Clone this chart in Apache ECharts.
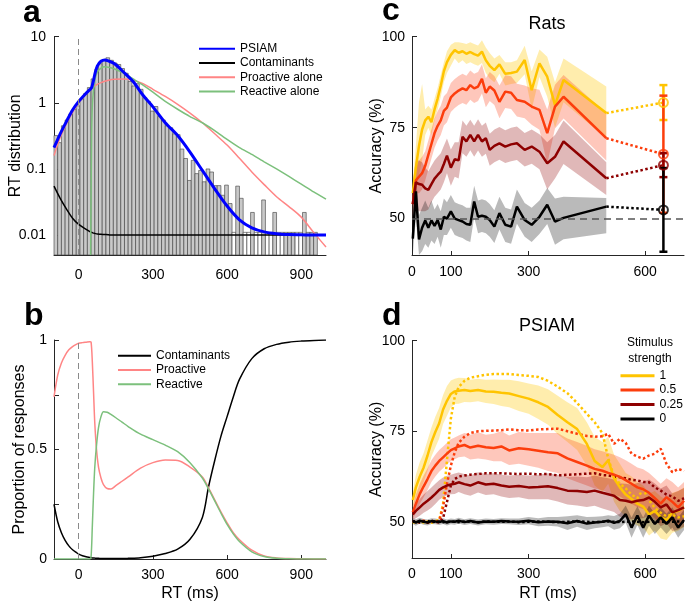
<!DOCTYPE html>
<html>
<head>
<meta charset="utf-8">
<script src="https://cdn.jsdelivr.net/npm/echarts@6/dist/echarts.min.js"></script>
<style>html,body{margin:0;background:#fff}#main{width:685px;height:604px}</style>
</head>
<body>
<div id="main"></div>
<script>
// ---------- panel a : RT distribution (log scale) ----------
const histBinWidth = 15;
const histCenters = [-92.5, -77.5, -62.5, -47.5, -32.5, -17.5, -2.5, 12.5, 27.5, 42.5,
  57.5, 72.5, 87.5, 102.5, 117.5, 132.5, 147.5, 162.5, 177.5, 192.5,
  207.5, 222.5, 237.5, 252.5, 267.5, 282.5, 297.5, 312.5, 327.5, 342.5,
  357.5, 372.5, 387.5, 402.5, 417.5, 432.5, 447.5, 462.5, 477.5, 492.5,
  507.5, 522.5, 537.5, 552.5, 567.5, 582.5, 597.5, 612.5, 627.5, 642.5,
  657.5, 672.5, 687.5, 702.5, 717.5, 732.5, 747.5, 762.5, 777.5, 792.5,
  807.5, 822.5, 837.5, 852.5, 867.5, 882.5, 897.5, 912.5, 927.5, 942.5, 957.5];
const histValues = [0.32, 0.25, 0.45, 0.55, 0.68, 0.8, 0.9, 1.15, 1.38, 1.7,
  2.3, 3.2, 3.9, 4.4, 4.8, 4.4, 4.0, 3.8, 3.3, 2.8,
  2.1, 1.8, 1.95, 1.6, 1.2, 1.05, 0.75, 0.88, 0.62, 0.55,
  0.45, 0.42, 0.34, 0.33, 0.2, 0.144, 0.067, 0.135, 0.085, 0.095,
  0.064, 0.1, 0.09, 0.056, 0.056, 0.04, 0.057, 0.03, 0.011, 0.055,
  0.036, 0.011, 0.011, 0.022, 0.011, 0.011, 0.034, 0.011, 0.011, 0.022,
  0.011, 0.011, 0.011, 0.011, 0.011, 0.011, 0.011, 0.022, 0.011, 0.011, 0.011];
const histEmptyBins = [627.5, 672.5, 687.5, 717.5, 732.5, 762.5, 777.5, 807.5, 822.5, 882.5, 897.5];

const aX = [-100, -75, -50, -25, 0, 25, 45, 48, 52, 55,
  60, 65, 75, 90, 105, 120, 145, 180, 220, 260,
  300, 350, 400, 450, 500, 550, 600, 650, 700, 750,
  800, 850, 900, 950, 1000];
const aPsiam = [0.21, 0.34, 0.52, 0.78, 1.05, 1.34, 1.58, 1.62, 1.7, 1.85,
  2.2, 2.7, 3.6, 4.25, 4.45, 4.3, 3.9, 2.95, 2.1, 1.3,
  0.87, 0.5, 0.32, 0.18, 0.095, 0.05, 0.0275, 0.017, 0.0129, 0.0112,
  0.0105, 0.0102, 0.0101, 0.01, 0.01];
const aContam = [0.055, 0.036, 0.025, 0.018, 0.0145, 0.0125, 0.0113, 0.0112, 0.011, 0.0109,
  0.0107, 0.0106, 0.0104, 0.0103, 0.0102, 0.0101, 0.01, 0.01, 0.01, 0.01,
  0.01, 0.01, 0.01, 0.01, 0.01, 0.01, 0.01, 0.01, 0.01, 0.01,
  0.01, 0.01, 0.01, 0.01, 0.01];
const aProactive = [0.16, 0.3, 0.48, 0.72, 1.0, 1.3, 1.55, 1.58, 1.63, 1.67,
  1.73, 1.8, 1.9, 2.02, 2.12, 2.2, 2.27, 2.3, 2.2, 1.95,
  1.6, 1.25, 0.95, 0.7, 0.5, 0.34, 0.23, 0.145, 0.09, 0.058,
  0.038, 0.027, 0.0187, 0.011, 0.0066];
const aReactive = [null, null, null, null, null, null, null, 0.005, 0.3, 0.9,
  1.6, 2.2, 2.9, 3.35, 3.5, 3.45, 3.25, 2.85, 2.3, 1.85,
  1.45, 1.05, 0.8, 0.62, 0.5, 0.38, 0.28, 0.21, 0.166, 0.128,
  0.1, 0.077, 0.059, 0.045, 0.035];

// ---------- panel b : proportion of responses ----------
const bX = [-100, -85, -70, -55, -40, -25, -10, 0, 15, 30,
  45, 50, 55, 60, 65, 72, 80, 90, 100, 115,
  130, 150, 175, 200, 250, 300, 350, 400, 450, 500,
  525, 550, 575, 600, 625, 650, 700, 750, 800, 850,
  900, 950, 1000];
const bContam = [0.25, 0.17, 0.12, 0.085, 0.06, 0.042, 0.03, 0.022, 0.015, 0.01,
  0.007, 0.006, 0.005, 0.005, 0.004, 0.003, 0.003, 0.002, 0.002, 0.002,
  0.002, 0.002, 0.002, 0.003, 0.006, 0.013, 0.025, 0.045, 0.09, 0.19,
  0.33, 0.45, 0.56, 0.65, 0.74, 0.82, 0.915, 0.96, 0.98, 0.99,
  0.995, 0.998, 1];
const bProactive = [0.74, 0.84, 0.895, 0.93, 0.955, 0.97, 0.98, 0.985, 0.988, 0.99,
  0.992, 0.99, 0.9, 0.76, 0.62, 0.5, 0.42, 0.37, 0.34, 0.322,
  0.32, 0.335, 0.355, 0.375, 0.415, 0.44, 0.452, 0.45, 0.42, 0.375,
  0.325, 0.27, 0.215, 0.165, 0.12, 0.088, 0.04, 0.014, 0.005, 0.002,
  0.001, 0, 0];
const bReactive = [0, 0, 0, 0, 0, 0, 0, 0, 0, 0,
  0, 0.01, 0.15, 0.3, 0.42, 0.52, 0.6, 0.65, 0.672, 0.67,
  0.66, 0.645, 0.625, 0.605, 0.57, 0.545, 0.52, 0.49, 0.44, 0.37,
  0.32, 0.265, 0.21, 0.158, 0.115, 0.08, 0.033, 0.011, 0.003, 0.001,
  0, 0, 0];

// ---------- panel c : rats accuracy ----------
const cX = [2, 10, 18, 26, 34, 42, 50, 58, 66, 74, 82, 90, 100, 110, 120, 130, 140, 150, 160, 170,
  180, 190, 200, 212, 225, 240, 255, 270, 290, 308, 328, 348, 368, 390, 500];
const ratsS1 = [57, 64, 70, 74.5, 77, 78, 76.5, 80, 83, 86.5, 90.5, 93, 95, 96.3, 95.6, 96, 95.3, 95.8, 95.2, 94.8,
  95.9, 93.5, 92, 90.8, 92.4, 89.8, 90, 90.4, 93.6, 85.3, 92.7, 89, 81.2, 88.1, 79];
const ratsS1Lo = [54, 58, 62, 66, 73, 75, 73, 77, 80, 83.5, 87.5, 90, 92, 94, 92.7, 93.5, 92.5, 93, 92.4, 92,
  92.8, 90, 88.5, 87.5, 89.8, 86.6, 87, 87.3, 89.7, 80, 88.9, 83.5, 75, 82, 72];
const ratsS1Hi = [60, 70, 82, 87, 80, 81, 80, 83, 86, 89.5, 93, 96, 97.8, 98.5, 98.5, 98.3, 98, 98.5, 98, 97.6,
  99, 97, 95.5, 94, 95, 93, 93, 93.5, 97.5, 90.5, 96.5, 94.5, 87.5, 94, 86.3];
const ratsS05 = [54, 60.5, 61.5, 62.5, 64.5, 67.5, 70.5, 73.5, 75.5, 77, 79.6, 80.5, 83.3, 84.4, 85.2, 85.8, 85.3, 86.7, 85.8, 86.3,
  88.4, 84.6, 86.3, 85.2, 82.1, 84.9, 84.6, 82.6, 82.1, 80.8, 79.9, 73.5, 80.8, 83.5, 72.1];
const ratsS05Lo = [51, 57, 57, 58, 60.5, 63.5, 66.5, 69.5, 71.5, 73, 75.6, 76.5, 79.3, 80.4, 81.2, 81.8, 81.3, 82.7, 81.8, 82.3,
  84.4, 80.6, 82.3, 81.2, 77.6, 80.4, 80.1, 78.1, 77.6, 75.8, 74.4, 65, 74.8, 77.5, 66];
const ratsS05Hi = [57, 64, 66, 67, 68.5, 71.5, 74.5, 77.5, 79.5, 81, 83.6, 84.5, 87.3, 88.4, 89.2, 89.8, 89.3, 90.7, 89.8, 90.3,
  92.4, 88.6, 90.3, 89.2, 86.6, 89.4, 89.1, 87.1, 86.6, 85.8, 85.4, 80, 86.8, 89.5, 79];
const ratsS025 = [54, 60, 59.5, 59.3, 58.3, 57.9, 59.5, 61, 62, 62.9, 65, 67.3, 64, 66.3, 66, 72.5, 71.2, 73, 71.2, 73,
  71.2, 72.1, 68.9, 70, 70.7, 69.8, 70.4, 70.7, 68.9, 69.8, 68.4, 65.2, 67, 71.2, 61.1];
const ratsS025Lo = [47, 53, 52, 52, 52, 52.5, 54.5, 56, 57, 58, 60, 62.5, 59, 61.5, 61, 68, 67, 68.8, 67, 68.7,
  67, 67.8, 64.5, 65.5, 66.2, 65.3, 65.8, 66.1, 64.3, 65.1, 63.6, 58, 61, 65, 56.5];
const ratsS025Hi = [60, 66, 66, 65.5, 64, 63, 64.5, 66, 67, 68, 70, 72, 69, 71, 71, 77, 75.5, 77.2, 75.5, 77.3,
  75.5, 76.4, 73.3, 74.5, 75.2, 74.3, 75, 75.3, 73.5, 74.5, 73.2, 71, 73, 77, 65.5];
const ratsS0 = [44.5, 57.5, 44.3, 47.5, 49.5, 47.5, 49.5, 48, 49.6, 47, 50.5, 50, 52, 50, 49.6, 49.2, 48.5, 48.3, 54.7, 50.5,
  50.8, 50.5, 49.6, 47.8, 51.5, 48.3, 47.8, 53.3, 49.6, 48.3, 50.5, 53.8, 49.2, 50.2, 53.3];
const ratsS0Lo = [40, 50, 40, 41, 43, 42, 44, 43, 45, 42, 45.5, 45.5, 47.5, 45.5, 45, 44.7, 44, 43.6, 50.4, 46,
  46.3, 46, 45, 43.3, 47, 43.6, 43.1, 48.6, 45, 43.6, 45.8, 48.5, 42.8, 44.3, 46];
const ratsS0Hi = [52, 62, 51, 53, 55, 53, 55, 52.5, 54, 52, 55.5, 54.5, 56.5, 54.5, 54, 53.7, 53, 53, 59, 55,
  55.3, 55, 54, 52.3, 56, 53, 52.5, 58, 54.3, 53, 55, 58.4, 55.5, 56, 55.7];
// late responses (single point with error bar), order: 1, 0.5, 0.25, 0
const ratsLateX = 647;
const ratsLateMean = [81.9, 67.7, 64.7, 52.4];
const ratsLateLo = [77.1, 51.6, 61.4, 40.9];
const ratsLateHi = [86.7, 83.8, 68.0, 63.9];

// ---------- panel d : PSIAM accuracy ----------
const dX = [2, 10, 20, 30, 40, 50, 60, 70, 80, 90,
  100, 110, 120, 135, 150, 170, 190, 210, 230, 250,
  275, 300, 325, 350, 375, 400, 425, 450, 470, 490,
  505, 520, 535, 550, 565, 580, 595, 610, 625, 640,
  655, 670, 685, 700];
const psiS1 = [56, 59.5, 62.5, 65, 68.3, 72, 74.8, 77.2, 81, 83.4,
  85.3, 86, 86.2, 86.4, 86.1, 86.4, 86, 85.9, 85.6, 85.4,
  84.7, 84, 83, 81.7, 79.5, 77.5, 75.6, 71.5, 66.8, 65.1,
  67, 62, 59.5, 57.5, 56.3, 55, 54.2, 52, 53, 51.2,
  50.5, 52.5, 53, 54];
const psiS1Hi = [58, 63, 66.5, 69, 72.5, 76, 79, 81.5, 85, 87.5,
  89, 89.5, 89.8, 89.7, 89.2, 89.5, 89.2, 89.3, 89.2, 89.2,
  88.8, 88.2, 87.6, 86.6, 84.8, 83, 81.4, 77.5, 73.5, 72,
  73.5, 68.5, 66, 63.5, 62.5, 61, 60, 57.8, 58.5, 57,
  56, 58, 58.5, 59.5];
const psiS1Lo = [54, 56, 58.5, 61, 64, 68, 70.5, 73, 77, 79.3,
  81.6, 82.5, 82.6, 83.1, 83, 83.3, 82.8, 82.5, 82, 81.6,
  80.6, 79.8, 78.4, 76.8, 74.2, 72, 69.8, 65.5, 60, 58.2,
  60.5, 55.5, 53, 51.5, 50, 49, 48.4, 46.2, 47.5, 45.4,
  45, 47, 47.5, 48.5];
const psiS05 = [52.6, 55, 57.7, 59.8, 61.8, 64, 65.5, 66.8, 67.8, 68.8,
  69.8, 70.3, 70.8, 71.2, 70.5, 71, 70.6, 70.4, 70.8, 69.7,
  70.3, 70, 69.6, 69.2, 68.9, 67.5, 66.5, 65.5, 64.6, 64.1,
  63.5, 63, 62.4, 61.5, 60.5, 59.5, 59, 58, 56.5, 55,
  56.8, 55.5, 54, 55.8];
const psiS05Hi = [54.5, 57.5, 60.5, 62.8, 64.8, 67, 68.5, 69.8, 70.8, 71.8,
  72.8, 73.3, 73.8, 74.5, 74, 74.7, 74, 74.3, 75, 73.8,
  74.8, 74.5, 74.5, 74.5, 74.5, 73, 72, 71, 70, 69.5,
  69, 68.5, 67.8, 67, 66, 65, 64.5, 63.5, 62, 60.5,
  62, 61, 59.5, 61];
const psiS05Lo = [50.7, 52.5, 55, 56.8, 58.8, 61, 62.5, 63.8, 64.8, 65.8,
  66.8, 67.3, 67.8, 68, 67.2, 67.5, 67.2, 66.7, 66.7, 65.7,
  66, 65.5, 64.9, 64, 63.5, 62, 61, 60, 59.2, 58.7,
  58, 57.5, 57, 56, 55, 54, 53.5, 52.5, 51, 49.5,
  51.5, 50, 48.5, 50.5];
const psiS025 = [52, 53, 54, 55, 55.8, 56.7, 57.7, 58.8, 59.5, 60,
  60.3, 60.5, 60.9, 60.4, 60, 60.9, 60.3, 60.5, 60, 59.7,
  59.9, 59.5, 59.6, 59.8, 59.3, 58.6, 58.5, 58.2, 58.6, 58,
  57.6, 57.2, 56, 55.8, 55.4, 55.8, 56, 56.7, 55.5, 54,
  54.8, 52.6, 53.2, 54];
const psiS025Hi = [53.5, 55, 56.3, 57.5, 58.5, 59.5, 60.5, 61.5, 62.2, 62.7,
  63, 63.3, 63.6, 63.2, 62.8, 63.7, 63.2, 63.4, 63, 62.8,
  63, 62.8, 63, 63.4, 63, 62.4, 62.5, 62.3, 62.8, 62.3,
  62, 61.7, 60.6, 60.5, 60.2, 60.7, 61, 61.7, 60.6, 59.2,
  60, 57.8, 58.5, 59.3];
const psiS025Lo = [50.5, 51, 51.7, 52.5, 53.1, 53.9, 54.9, 56.1, 56.8, 57.3,
  57.6, 57.7, 58.2, 57.6, 57.2, 58.1, 57.4, 57.6, 57, 56.6,
  56.8, 56.2, 56.2, 56.2, 55.6, 54.8, 54.5, 54.1, 54.4, 53.7,
  53.2, 52.7, 51.4, 51.1, 50.6, 50.9, 51, 51.7, 50.4, 48.8,
  49.6, 47.4, 47.9, 48.7];
const psiS0 = [50.2, 49.8, 50.3, 50, 49.8, 50.2, 50.1, 49.9, 50.2, 49.8,
  50.1, 50, 50.3, 49.9, 50.2, 49.8, 50.1, 50, 50.2, 50.1,
  50, 50.3, 49.9, 50.1, 50, 49.6, 50.2, 49.5, 49.8, 50,
  50.3, 49.7, 50.2, 52.1, 48.4, 51.7, 48.4, 51.7, 49.4, 51.2,
  49.4, 51.2, 48.4, 50.5];
const psiS0Hi = [51, 50.7, 51.1, 50.8, 50.6, 51, 50.9, 50.7, 51, 50.6,
  50.9, 50.8, 51.1, 50.7, 51, 50.6, 50.9, 50.8, 51, 50.9,
  50.9, 51.3, 51, 51.3, 51.3, 51.5, 51.8, 51.3, 51.4, 51.5,
  51.8, 51.6, 52.2, 54.5, 51.2, 54.3, 51.2, 54.5, 52.2, 54,
  52.2, 54, 51.2, 53.3];
const psiS0Lo = [49.4, 48.9, 49.5, 49.2, 49, 49.4, 49.3, 49.1, 49.4, 49,
  49.3, 49.2, 49.5, 49.1, 49.4, 49, 49.3, 49.2, 49.4, 49.3,
  49.1, 49.3, 48.8, 48.9, 48.7, 47.7, 48.6, 47.7, 48.2, 48.5,
  48.8, 47.8, 48.2, 49.7, 45.6, 49.1, 45.6, 48.9, 46.6, 48.4,
  46.6, 48.4, 45.6, 47.7];
// model (dotted)
const modS1 = [50, 49.6, 50.2, 49.8, 50.1, 49.7, 50.2, 50.5, 54.9, 67,
  78.5, 84.5, 87.2, 88.9, 89.8, 90.2, 90.6, 90.8, 90.8, 90.8,
  90.5, 90.3, 90, 88.9, 87.3, 85.5, 82.8, 79.8, 77.5, 74.5,
  67.5, 62.5, 60.5, 59.2, 57.5, 56.5, 59, 56, 53.8, 52.5,
  51.5, 52, 51.2, 51.5];
const modS05 = [50.2, 49.8, 50, 50.3, 49.7, 50.1, 49.9, 50.3, 54, 60.5,
  65.5, 69.2, 71.8, 73.5, 74.5, 75, 75.1, 75.2, 75.3, 75.5,
  75.3, 75.2, 75.5, 75.6, 75.7, 75, 74.3, 73.7, 73.5, 73.6,
  74.3, 71.5, 72.9, 71.8, 68.8, 68, 67.4, 68.3, 68.8, 70.2,
  66, 63.7, 64.6, 64];
const modS025 = [50, 50.2, 49.8, 50.1, 49.8, 50.3, 50, 49.8, 51, 55.5,
  60, 61.8, 62.5, 62.8, 63, 63.2, 63.4, 63.4, 63.4, 63.3,
  63.2, 63.3, 63.1, 63.2, 62.8, 63, 63.1, 63.3, 63.4, 62.9,
  62.8, 62.5, 62.3, 62, 61.6, 61.4, 61, 60.9, 59.5, 58.6,
  57.5, 57, 55.8, 56.5];
const modS0 = [50, 50.1, 49.9, 50, 50.2, 49.9, 50, 50.1, 49.9, 50,
  50.1, 50, 49.9, 50.1, 50, 49.9, 50.1, 50, 50, 50.1,
  49.9, 50, 50.1, 50, 49.9, 50, 50.1, 50, 49.9, 50,
  50.1, 50, 49.9, 50, 50.1, 50, 49.9, 50, 50.1, 50,
  49.9, 50, 50.1, 50];

// ---------- styles ----------
const FONT = "'Liberation Sans', Arial, Helvetica, sans-serif";
const A_MIN = 0.005;
const col = { y: '#ffc400', r: '#fc3d0c', d: '#8e0000', k: '#000000' };
const bandCol = { y: 'rgba(255,200,0,0.32)', r: 'rgba(252,70,30,0.3)', d: 'rgba(142,0,0,0.28)', k: 'rgba(0,0,0,0.27)' };

const pairs = (xs, ys) => xs.map((x, i) => [x, ys[i]]);

function line(name, ax, xs, ys, color, width, extra) {
  return Object.assign({
    type: 'line', name: name, xAxisIndex: ax, yAxisIndex: ax,
    data: pairs(xs, ys), showSymbol: false, symbol: 'none', smooth: false,
    lineStyle: { color: color, width: width }, itemStyle: { color: color },
    z: 3, silent: true, animation: false
  }, extra || {});
}

function band(ax, xs, lo, hi, fill) {
  return {
    type: 'custom', xAxisIndex: ax, yAxisIndex: ax, silent: true, z: 1, animation: false,
    data: xs.map((x, i) => [x, lo[i], hi[i]]),
    renderItem: (params, api) => {
      if (params.dataIndex !== 0) return null;
      const top = xs.map((x, i) => api.coord([x, hi[i]]));
      const bot = xs.map((x, i) => api.coord([x, lo[i]])).reverse();
      return { type: 'polygon', shape: { points: top.concat(bot) }, style: { fill: fill } };
    }
  };
}

function axisBase(extra) {
  const base = {
    type: 'value', splitLine: { show: false },
    axisLine: { show: true, onZero: false, lineStyle: { color: '#262626', width: 1 } },
    axisTick: { show: true, inside: true, length: 4, lineStyle: { color: '#262626' } },
    axisLabel: { color: '#000', fontSize: 14, fontFamily: FONT, margin: 9 },
    nameTextStyle: { color: '#000', fontSize: 16, fontFamily: FONT },
    nameLocation: 'middle', nameMoveOverlap: false
  };
  for (const k in extra) {
    if (typeof extra[k] === 'object' && !Array.isArray(extra[k]) && base[k]) base[k] = Object.assign({}, base[k], extra[k]);
    else base[k] = extra[k];
  }
  return base;
}

const dashV = {
  silent: true, symbol: 'none', label: { show: false },
  lineStyle: { type: [6, 4], color: '#8a8a8a', width: 1 }, data: [{ xAxis: 0 }]
};

const series = [];

// panel a
series.push({
  type: 'custom', xAxisIndex: 0, yAxisIndex: 0, silent: true, z: 1, animation: false,
  data: pairs(histCenters, histValues),
  renderItem: (params, api) => {
    const x = api.value(0), v = api.value(1);
    const p0 = api.coord([x - histBinWidth / 2, v]);
    const p1 = api.coord([x + histBinWidth / 2, A_MIN]);
    return {
      type: 'rect',
      shape: { x: p0[0], y: p0[1], width: p1[0] - p0[0], height: p1[1] - p0[1] },
      style: { fill: histEmptyBins.includes(x) ? '#ffffff' : '#c9c9c9', stroke: '#3a3a3a', lineWidth: 0.6 }
    };
  }
});
series.push(line('Contaminants', 0, aX, aContam, '#000', 1.5, { smooth: 0.3, markLine: dashV }));
series.push(line('Proactive alone', 0, aX, aProactive, '#ff8585', 1.5, { smooth: 0.3 }));
series.push(line('Reactive alone', 0, aX, aReactive, '#7cc07c', 1.5, { smooth: 0.2 }));
series.push(line('PSIAM', 0, aX, aPsiam, '#0000ff', 3, { smooth: 0.3, z: 4 }));

// panel b
series.push(line('Contaminants', 1, bX, bContam, '#000', 1.5, { smooth: 0.3, markLine: dashV }));
series.push(line('Proactive', 1, bX, bProactive, '#ff8585', 1.5, { smooth: 0.3 }));
series.push(line('Reactive', 1, bX, bReactive, '#7cc07c', 1.5, { smooth: 0.3 }));

// panel c
series.push(band(2, cX, ratsS1Lo, ratsS1Hi, bandCol.y));
series.push(band(2, cX, ratsS05Lo, ratsS05Hi, bandCol.r));
series.push(band(2, cX, ratsS025Lo, ratsS025Hi, bandCol.d));
series.push(band(2, cX, ratsS0Lo, ratsS0Hi, bandCol.k));
const ratsMeans = [ratsS1, ratsS05, ratsS025, ratsS0];
const ratsCols = [col.y, col.r, col.d, col.k];
ratsMeans.forEach((m, k) => {
  series.push(line('rats ' + k, 2, cX, m, ratsCols[k], 2.5,
    k === 3 ? { markLine: { silent: true, symbol: 'none', label: { show: false },
      lineStyle: { type: [7, 5], color: '#555', width: 1.5 }, data: [{ yAxis: 50 }] } } : {}));
  series.push(line('rats late ' + k, 2, [cX[cX.length - 1], ratsLateX], [m[m.length - 1], ratsLateMean[k]],
    ratsCols[k], 2.5, { lineStyle: { color: ratsCols[k], width: 2.5, type: [2.5, 2.5] } }));
});
series.push({
  type: 'custom', xAxisIndex: 2, yAxisIndex: 2, silent: true, z: 5, animation: false,
  data: ratsLateMean.map((m, k) => [ratsLateX, ratsLateLo[k], ratsLateHi[k]]),
  renderItem: (params, api) => {
    const x = api.value(0);
    const lo = api.coord([x, api.value(1)]);
    const hi = api.coord([x, api.value(2)]);
    const st = { stroke: ratsCols[params.dataIndex], lineWidth: 2.5 };
    return { type: 'group', children: [
      { type: 'line', shape: { x1: lo[0], y1: lo[1], x2: hi[0], y2: hi[1] }, style: st },
      { type: 'line', shape: { x1: lo[0] - 4, y1: lo[1], x2: lo[0] + 4, y2: lo[1] }, style: st },
      { type: 'line', shape: { x1: hi[0] - 4, y1: hi[1], x2: hi[0] + 4, y2: hi[1] }, style: st }
    ] };
  }
});
series.push({
  type: 'scatter', xAxisIndex: 2, yAxisIndex: 2, silent: true, z: 6, animation: false,
  symbol: 'circle', symbolSize: 9,
  data: ratsLateMean.map((m, k) => ({ value: [ratsLateX, m],
    itemStyle: { color: 'rgba(0,0,0,0)', borderColor: ratsCols[k], borderWidth: 2 } }))
});

// panel d
series.push(band(3, dX, psiS1Lo, psiS1Hi, bandCol.y));
series.push(band(3, dX, psiS05Lo, psiS05Hi, bandCol.r));
series.push(band(3, dX, psiS025Lo, psiS025Hi, bandCol.d));
series.push(band(3, dX, psiS0Lo, psiS0Hi, bandCol.k));
[modS1, modS05, modS025, modS0].forEach((m, k) => {
  series.push(line('model ' + k, 3, dX, m, ratsCols[k], 2.5,
    { lineStyle: { color: ratsCols[k], width: 2.5, type: [2.5, 2.5] } }));
});
const dNames = ['1', '0.5', '0.25', '0'];
[psiS1, psiS05, psiS025, psiS0].forEach((m, k) => {
  series.push(line(dNames[k], 3, dX, m, ratsCols[k], 2.5, { z: 4 }));
});

const legendBase = {
  orient: 'vertical', itemWidth: 36, itemHeight: 14, itemGap: 2.3, padding: 0,
  selectedMode: false, itemStyle: { opacity: 0 },
  textStyle: { color: '#000', fontSize: 12, fontFamily: FONT }
};

const chart = echarts.init(document.getElementById('main'), null, { renderer: 'canvas' });
chart.setOption({
  animation: false,
  backgroundColor: '#fff',
  grid: [
    { left: 54, top: 36.7, width: 272, height: 218.3, outerBoundsMode: 'none' },
    { left: 54, top: 340, width: 272, height: 219, outerBoundsMode: 'none' },
    { left: 412, top: 36.7, width: 272, height: 218.3, outerBoundsMode: 'none' },
    { left: 412, top: 340.7, width: 272, height: 217.3, outerBoundsMode: 'none' }
  ],
  xAxis: [
    axisBase({ gridIndex: 0, min: -100, max: 1000,
      axisLabel: { customValues: [0, 300, 600, 900], margin: 13 }, axisTick: { customValues: [0, 300, 600, 900] } }),
    axisBase({ gridIndex: 1, min: -100, max: 1000, name: 'RT (ms)', nameGap: 27,
      axisLabel: { customValues: [0, 300, 600, 900] }, axisTick: { customValues: [0, 300, 600, 900] } }),
    axisBase({ gridIndex: 2, min: 0, max: 700,
      axisLabel: { customValues: [0, 100, 300, 600], margin: 10 }, axisTick: { customValues: [0, 100, 300, 600] } }),
    axisBase({ gridIndex: 3, min: 0, max: 700, name: 'RT (ms)', nameGap: 28,
      axisLabel: { customValues: [0, 100, 300, 600] }, axisTick: { customValues: [0, 100, 300, 600] } })
  ],
  yAxis: [
    axisBase({ type: 'log', gridIndex: 0, min: A_MIN, max: 10, logBase: 10, name: 'RT distribution', nameGap: 30,
      axisLabel: { showMinLabel: false, margin: 8 }, axisTick: { length: 5 } }),
    axisBase({ gridIndex: 1, min: 0, max: 1, name: 'Proportion of responses', nameGap: 26,
      axisLabel: { customValues: [0, 0.5, 1], margin: 7 }, axisTick: { customValues: [0, 0.25, 0.5, 0.75, 1], length: 5 } }),
    axisBase({ gridIndex: 2, min: 40, max: 100, name: 'Accuracy (%)', nameGap: 27,
      axisLabel: { customValues: [50, 75, 100], margin: 7 }, axisTick: { customValues: [50, 75, 100], length: 5 } }),
    axisBase({ gridIndex: 3, min: 40, max: 100, name: 'Accuracy (%)', nameGap: 27,
      axisLabel: { customValues: [50, 75, 100], margin: 7 }, axisTick: { customValues: [50, 75, 100], length: 5 } })
  ],
  legend: [
    Object.assign({}, legendBase, { data: ['PSIAM', 'Contaminants', 'Proactive alone', 'Reactive alone'], left: 198, top: 42.7 }),
    Object.assign({}, legendBase, { data: ['Contaminants', 'Proactive', 'Reactive'], left: 117, top: 349.7, itemWidth: 33 }),
    Object.assign({}, legendBase, { data: dNames, left: 619, top: 369.7, itemWidth: 34, itemGap: 2.4,
      lineStyle: { width: 3 } })
  ],
  graphic: [
    { type: 'text', x: 23, y: 29, style: { text: 'a', font: 'bold 32px ' + FONT, fill: '#000', verticalAlign: 'bottom' } },
    { type: 'text', x: 24, y: 332, style: { text: 'b', font: 'bold 32px ' + FONT, fill: '#000', verticalAlign: 'bottom' } },
    { type: 'text', x: 382, y: 27, style: { text: 'c', font: 'bold 32px ' + FONT, fill: '#000', verticalAlign: 'bottom' } },
    { type: 'text', x: 382, y: 332, style: { text: 'd', font: 'bold 32px ' + FONT, fill: '#000', verticalAlign: 'bottom' } },
    { type: 'text', x: 547, y: 24, style: { text: 'Rats', font: '18px ' + FONT, fill: '#000', align: 'center', verticalAlign: 'middle' } },
    { type: 'text', x: 547, y: 326, style: { text: 'PSIAM', font: '18px ' + FONT, fill: '#000', align: 'center', verticalAlign: 'middle' } },
    { type: 'text', x: 650, y: 343, style: { text: 'Stimulus', font: '12px ' + FONT, fill: '#000', align: 'center', verticalAlign: 'middle' } },
    { type: 'text', x: 650, y: 358.5, style: { text: 'strength', font: '12px ' + FONT, fill: '#000', align: 'center', verticalAlign: 'middle' } }
  ],
  series: series
});
</script>
</body>
</html>
